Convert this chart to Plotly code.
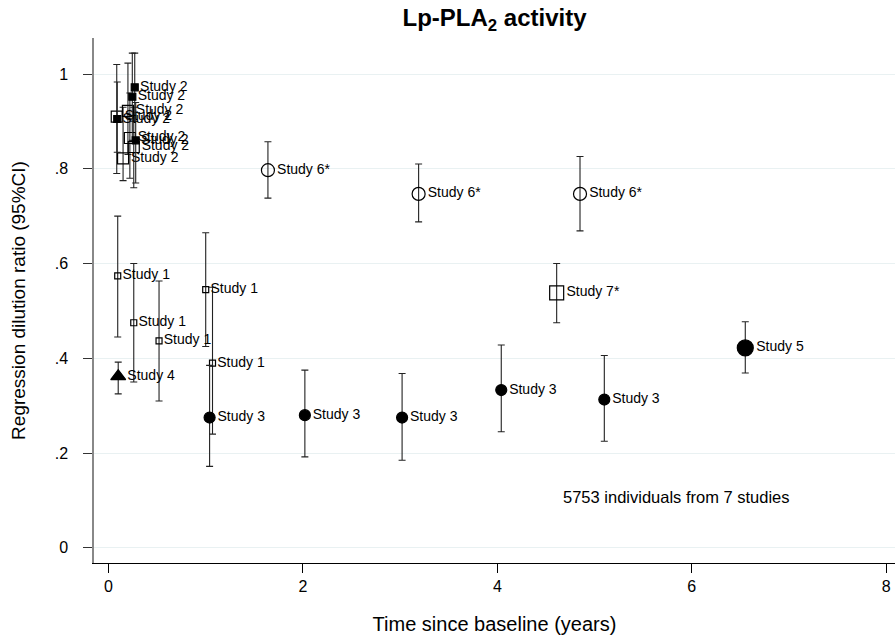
import plotly.graph_objects as go

# ---- data ----
s1_x = [0.095, 0.26, 0.52, 1.0, 1.07]
s1_y = [0.574, 0.475, 0.437, 0.545, 0.39]
s1_hi = [0.70, 0.60, 0.563, 0.665, 0.55]
s1_lo = [0.445, 0.35, 0.31, 0.425, 0.24]

s2o_x = [0.085, 0.20, 0.22, 0.15, 0.26]
s2o_y = [0.91, 0.922, 0.865, 0.822, 0.846]
s2o_hi = [1.02, 1.023, 0.96, 0.93, 0.93]
s2o_lo = [0.79, 0.83, 0.78, 0.775, 0.76]

s2f_x = [0.09, 0.245, 0.28, 0.27]
s2f_y = [0.905, 0.952, 0.86, 0.972]
s2f_hi = [0.983, 1.044, 0.94, 1.044]
s2f_lo = [0.835, 0.86, 0.77, 0.90]

s3_x = [1.04, 2.02, 3.02, 4.04, 5.1]
s3_y = [0.275, 0.28, 0.275, 0.333, 0.313]
s3_hi = [0.385, 0.375, 0.368, 0.428, 0.406]
s3_lo = [0.172, 0.192, 0.185, 0.245, 0.225]

s4_x = [0.1]
s4_y = [0.362]
s4_hi = [0.392]
s4_lo = [0.325]

s5_x = [6.55]
s5_y = [0.422]
s5_hi = [0.477]
s5_lo = [0.369]

s6_x = [1.64, 3.19, 4.85]
s6_y = [0.797, 0.747, 0.747]
s6_hi = [0.857, 0.81, 0.826]
s6_lo = [0.738, 0.688, 0.669]

s7_x = [4.61]
s7_y = [0.538]
s7_hi = [0.60]
s7_lo = [0.475]

x_ticks = [0, 2, 4, 6, 8]
y_ticks = [0, 0.2, 0.4, 0.6, 0.8, 1.0]
y_ticktext = ["0", ".2", ".4", ".6", ".8", "1"]

FONT = "Liberation Sans, Arial, sans-serif"
fig = go.Figure()


def add(xs, ys, hi, lo, label, symbol, size, lw=1.2):
    fig.add_trace(go.Scatter(
        x=xs, y=ys, mode="markers+text",
        text=[label] * len(xs), textposition="middle right",
        textfont=dict(family=FONT, size=14, color="black"),
        marker=dict(symbol=symbol, size=size, color="black",
                    line=dict(color="black", width=lw)),
        error_y=dict(type="data", symmetric=False,
                     array=[h - y for h, y in zip(hi, ys)],
                     arrayminus=[y - l for l, y in zip(lo, ys)],
                     color="#222222", thickness=1.1, width=3.5),
        showlegend=False, cliponaxis=False,
    ))


add(s1_x, s1_y, s1_hi, s1_lo, "Study 1", "square-open", 6, 1.2)
add(s2o_x, s2o_y, s2o_hi, s2o_lo, "Study 2", "square-open", 11, 1.2)
add(s2f_x, s2f_y, s2f_hi, s2f_lo, "Study 2", "square", 7)
add(s3_x, s3_y, s3_hi, s3_lo, "Study 3", "circle", 11)
add(s4_x, s4_y, s4_hi, s4_lo, "Study 4", "triangle-up", 13)
add(s5_x, s5_y, s5_hi, s5_lo, "Study 5", "circle", 16)
add(s6_x, s6_y, s6_hi, s6_lo, "Study 6*", "circle-open", 13, 1.2)
add(s7_x, s7_y, s7_hi, s7_lo, "Study 7*", "square-open", 14, 1.2)

fig.add_annotation(x=5.84, y=0.107, xref="x", yref="y",
                   text="5753 individuals from 7 studies", showarrow=False,
                   font=dict(family=FONT, size=16.5, color="black"))

fig.update_layout(
    width=895, height=643,
    margin=dict(l=94, r=0, t=38, b=80),
    paper_bgcolor="white", plot_bgcolor="white",
    font=dict(family=FONT, color="black"),
    title=dict(text="<b>Lp-PLA<sub>2</sub> activity</b>",
               x=0.5, xref="paper", y=0.972, yanchor="middle",
               font=dict(family=FONT, size=24, color="black")),
)
fig.update_xaxes(
    range=[-0.149, 8.09], tickvals=x_ticks,
    ticks="outside", ticklen=9, tickcolor="black", tickwidth=1,
    showline=True, linecolor="black", linewidth=1.2,
    showgrid=False, zeroline=False,
    tickfont=dict(family=FONT, size=16),
    title=dict(text="Time since baseline (years)", standoff=22,
               font=dict(family=FONT, size=20)),
)
fig.update_yaxes(
    range=[-0.032, 1.076], tickvals=y_ticks, ticktext=y_ticktext,
    ticks="outside", ticklen=9, tickcolor="#333333", tickwidth=1,
    ticklabelstandoff=12,
    showline=True, linecolor="#888888", linewidth=1.5,
    showgrid=True, gridcolor="#e9f1f2", gridwidth=1,
    zeroline=False,
    tickfont=dict(family=FONT, size=16),
    title=dict(text="Regression dilution ratio (95%CI)", standoff=24,
               font=dict(family=FONT, size=19)),
)

fig.write_html("out.html")
